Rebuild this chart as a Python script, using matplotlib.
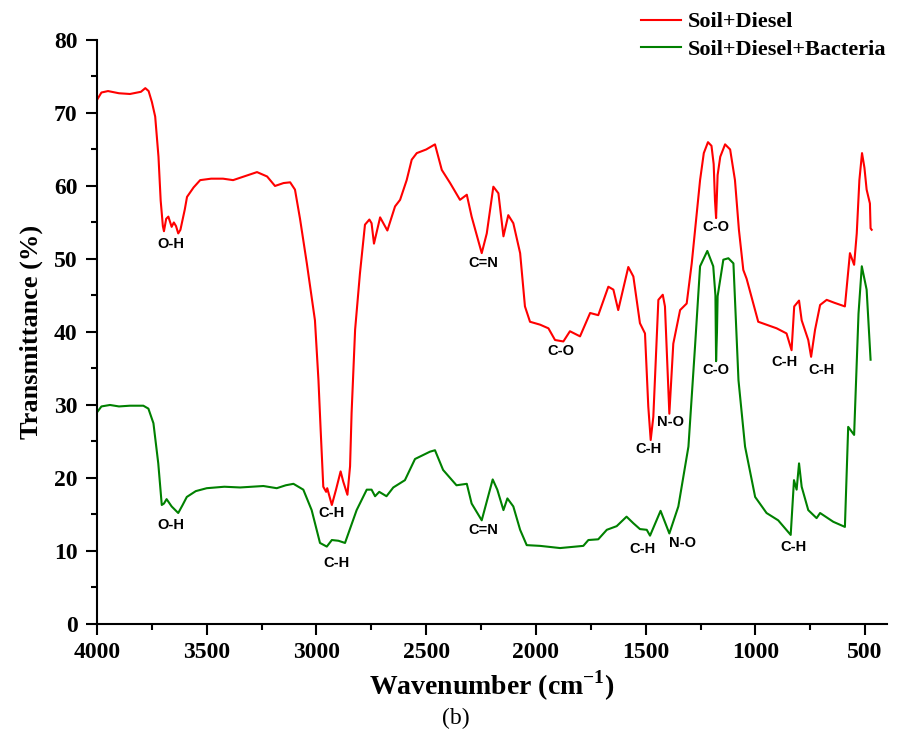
import matplotlib
matplotlib.use("Agg")
import matplotlib.pyplot as plt
from matplotlib.ticker import MultipleLocator

# Soil+Diesel (red)
red_x = [4000, 3980, 3950, 3900, 3850, 3800, 3780, 3765, 3750, 3735, 3720, 3710, 3700, 3695,
         3685, 3675, 3660, 3650, 3640, 3630, 3620, 3600, 3590, 3560, 3530, 3480, 3426, 3380,
         3330, 3271, 3225, 3189, 3150, 3120, 3098, 3075, 3044, 3007, 2991, 2981, 2969, 2956,
         2951, 2930, 2911, 2890, 2878, 2859, 2847, 2840, 2824, 2802, 2779, 2759, 2749, 2738,
         2710, 2677, 2642, 2619, 2589, 2566, 2543, 2500, 2460, 2429, 2391, 2346, 2315, 2293,
         2247, 2224, 2194, 2171, 2148, 2126, 2103, 2072, 2050, 2027, 1981, 1943, 1913, 1875,
         1845, 1799, 1753, 1716, 1670, 1647, 1625, 1579, 1556, 1526, 1503, 1488, 1477, 1465,
         1442, 1422, 1412, 1392, 1374, 1343, 1313, 1290, 1267, 1252, 1235, 1216, 1200, 1190,
         1184, 1179, 1172, 1160, 1138, 1115, 1093, 1075, 1055, 1040, 987, 949, 903, 858, 835,
         823, 801, 789, 759, 746, 728, 705, 675, 640, 592, 569, 550, 538, 526, 514, 503, 493,
         478, 475, 470]
red_y = [71.8, 72.8, 73.0, 72.7, 72.6, 72.9, 73.4, 73.0, 71.5, 69.5, 64.0, 58.0, 54.5, 53.8,
         55.5, 55.8, 54.4, 55.0, 54.5, 53.5, 54.0, 56.8, 58.5, 59.8, 60.8, 61.0, 61.0, 60.8,
         61.3, 61.9, 61.3, 60.0, 60.4, 60.5, 59.5, 55.5, 49.4, 41.6, 33.4, 26.6, 18.8, 18.1,
         18.6, 16.3, 18.4, 20.9, 19.5, 17.7, 21.6, 28.9, 40.3, 48.0, 54.7, 55.4, 54.9, 52.1,
         55.7, 53.9, 57.2, 58.1, 60.8, 63.6, 64.5, 65.0, 65.7, 62.2, 60.4, 58.1, 58.8, 55.8,
         50.8, 53.5, 59.9, 59.0, 53.1, 56.0, 54.9, 50.8, 43.5, 41.4, 41.0, 40.5, 38.9, 38.7,
         40.1, 39.4, 42.6, 42.3, 46.2, 45.8, 43.0, 48.9, 47.6, 41.2, 39.8, 29.8, 25.2, 28.4,
         44.4, 45.1, 43.5, 28.8, 38.4, 43.0, 43.9, 49.4, 56.3, 60.8, 64.5, 66.0, 65.5, 63.0,
         58.0, 55.6, 61.5, 64.0, 65.7, 65.0, 60.8, 54.0, 48.5, 47.3, 41.4, 41.0, 40.5, 39.8, 37.5,
         43.5, 44.3, 41.6, 38.9, 36.6, 40.3, 43.7, 44.4, 44.0, 43.5, 50.8, 49.2, 53.5, 60.8, 64.5,
         62.5, 59.5, 57.6, 54.2, 54.0]

# Soil+Diesel+Bacteria (green)
green_x = [4000, 3980, 3941, 3900, 3850, 3789, 3766, 3743, 3721, 3705, 3695, 3683, 3660, 3630,
           3610, 3591, 3550, 3500, 3420, 3348, 3242, 3181, 3140, 3105, 3060, 3022, 2984, 2953,
           2930, 2900, 2870, 2817, 2771, 2749, 2733, 2714, 2681, 2650, 2597, 2551, 2483, 2460,
           2423, 2362, 2315, 2293, 2247, 2197, 2176, 2148, 2130, 2103, 2072, 2042, 1981, 1890,
           1784, 1761, 1716, 1677, 1632, 1587, 1556, 1526, 1495, 1480, 1432, 1392, 1351, 1305,
           1275, 1252, 1219, 1192, 1182, 1179, 1175, 1172, 1146, 1123, 1100, 1077, 1047, 1001,
           949, 896, 839, 824, 812, 801, 789, 759, 721, 705, 645, 592, 577, 550, 530, 515, 493, 475]
green_y = [29.0, 29.8, 30.0, 29.8, 29.9, 29.9, 29.5, 27.5, 22.0, 16.3, 16.5, 17.1, 16.1, 15.2,
           16.3, 17.4, 18.2, 18.6, 18.8, 18.7, 18.9, 18.6, 19.0, 19.2, 18.4, 15.6, 11.1, 10.6,
           11.5, 11.4, 11.1, 15.6, 18.4, 18.4, 17.5, 18.1, 17.5, 18.7, 19.7, 22.6, 23.6, 23.8,
           21.1, 19.0, 19.2, 16.5, 14.2, 19.8, 18.4, 15.6, 17.2, 16.1, 12.9, 10.8, 10.7, 10.4,
           10.7, 11.5, 11.6, 12.9, 13.4, 14.7, 13.8, 13.0, 12.9, 12.1, 15.5, 12.4, 16.1, 24.3,
           38.0, 49.0, 51.1, 49.0, 45.0, 36.0, 40.0, 44.9, 49.9, 50.1, 49.4, 33.4, 24.3, 17.4,
           15.2, 14.2, 12.2, 19.7, 18.4, 22.0, 18.8, 15.6, 14.5, 15.2, 14.0, 13.3, 27.0, 25.9,
           42.5, 49.0, 45.8, 36.2]

# peak labels: (text, wavenumber, transmittance)
peak_labels = [("O-H", 3663, 52.0), ("C=N", 2241, 49.4), ("C-O", 1885, 37.4),
               ("C-H", 1485, 24.0), ("N-O", 1389, 27.7), ("C-O", 1179, 54.4),
               ("C-O", 1179, 34.8), ("C-H", 865, 35.9), ("C-H", 700, 34.8),
               ("O-H", 3663, 13.6), ("C-H", 2930, 15.2), ("C-H", 2911, 8.3),
               ("C=N", 2241, 12.9), ("C-H", 1515, 10.3), ("N-O", 1334, 11.1),
               ("C-H", 824, 10.5)]

serif = "Liberation Serif"
plt.rcParams["mathtext.fontset"] = "custom"
plt.rcParams["mathtext.rm"] = "Liberation Serif:bold"
plt.rcParams["mathtext.bf"] = "Liberation Serif:bold"

fig = plt.figure(figsize=(9.01, 7.36), dpi=100)
ax = fig.add_axes([0.1077, 0.1522, 0.8768, 0.7935])

ax.plot(red_x, red_y, color="#ff0000", lw=1.5, label="Soil+Diesel")
ax.plot(green_x, green_y, color="#008000", lw=1.5, label="Soil+Diesel+Bacteria")

for txt, x, y in peak_labels:
    ax.text(x, y, txt, ha="center", va="center", fontsize=10.5,
            fontweight="bold", family="Liberation Sans")

ax.set_xlim(4000, 400)
ax.set_ylim(0, 80)
ax.xaxis.set_major_locator(MultipleLocator(500))
ax.xaxis.set_minor_locator(MultipleLocator(250))
ax.yaxis.set_major_locator(MultipleLocator(10))
ax.yaxis.set_minor_locator(MultipleLocator(5))
ax.tick_params(which="both", direction="out", width=1.5, labelsize=17)
ax.tick_params(which="major", length=8)
ax.tick_params(which="minor", length=4.3)
ax.tick_params(axis="x", which="major", pad=5)
ax.tick_params(axis="y", which="major", pad=6)
for lab in ax.get_xticklabels() + ax.get_yticklabels():
    lab.set_family(serif)
    lab.set_fontweight("bold")

ax.spines["top"].set_visible(False)
ax.spines["right"].set_visible(False)
ax.spines["left"].set_linewidth(1.5)
ax.spines["bottom"].set_linewidth(1.5)

ax.set_xlabel("Wavenumber (cm$^{-1}$)", family=serif, fontweight="bold",
              fontsize=20, labelpad=4)
ax.set_ylabel("Transmittance (%)", family=serif, fontweight="bold", fontsize=19, labelpad=8)

fig.text(0.506, 0.0245, "(b)", family=serif, fontsize=17, ha="center", va="center")

fig.legend(loc="upper left", bbox_to_anchor=(0.704, 0.993), frameon=False,
           prop={"family": serif, "weight": "bold", "size": 16},
           handlelength=1.8, handletextpad=0.3, labelspacing=0.3,
           borderaxespad=0, borderpad=0.3)

plt.savefig("out.png", dpi=100)
